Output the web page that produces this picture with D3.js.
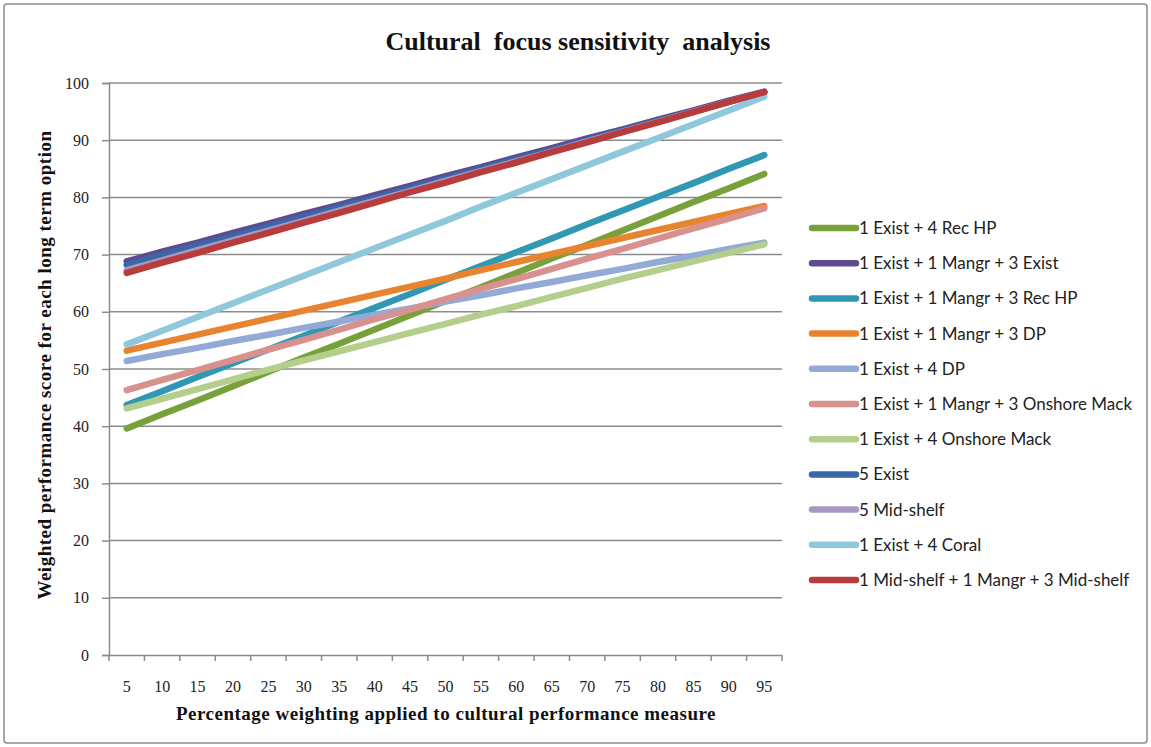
<!DOCTYPE html>
<html>
<head>
<meta charset="utf-8">
<script src="https://cdn.jsdelivr.net/npm/d3@7"></script>
<style>
  body { margin: 0; background: #fff; }
  svg { display: block; }
</style>
</head>
<body>
<div id="chart"></div>
<script>
// weighting applied to the cultural measure (x categories)
const categories = [5, 10, 15, 20, 25, 30, 35, 40, 45, 50, 55, 60, 65, 70, 75, 80, 85, 90, 95];

const seriesNames = [
  "1 Exist + 4 Rec HP",
  "1 Exist + 1 Mangr + 3 Exist",
  "1 Exist + 1 Mangr + 3 Rec HP",
  "1 Exist + 1 Mangr + 3 DP",
  "1 Exist + 4 DP",
  "1 Exist + 1 Mangr + 3 Onshore Mack",
  "1 Exist + 4 Onshore Mack",
  "5 Exist",
  "5 Mid-shelf",
  "1 Exist + 4 Coral",
  "1 Mid-shelf + 1 Mangr + 3 Mid-shelf"
];

// values, one array per option
const existRecHP      = [39.6, 42.1, 44.5, 47.0, 49.5, 52.0, 54.4, 56.9, 59.4, 61.9, 64.3, 66.8, 69.3, 71.7, 74.2, 76.7, 79.2, 81.6, 84.1];
const mangrExist      = [68.8, 70.5, 72.1, 73.8, 75.4, 77.1, 78.7, 80.4, 82.0, 83.7, 85.3, 87.0, 88.6, 90.3, 91.9, 93.6, 95.2, 96.9, 98.5];
const mangrRecHP      = [43.7, 46.1, 48.6, 51.0, 53.4, 55.8, 58.3, 60.7, 63.1, 65.6, 68.0, 70.4, 72.8, 75.3, 77.7, 80.1, 82.5, 85.0, 87.4];
const mangrDP         = [53.2, 54.6, 56.0, 57.4, 58.8, 60.2, 61.6, 63.0, 64.4, 65.8, 67.3, 68.7, 70.1, 71.5, 72.9, 74.3, 75.7, 77.1, 78.5];
const existDP         = [51.4, 52.6, 53.7, 54.9, 56.0, 57.2, 58.3, 59.5, 60.6, 61.8, 62.9, 64.1, 65.2, 66.4, 67.5, 68.7, 69.8, 71.0, 72.1];
const mangrOnshore    = [46.3, 48.1, 49.8, 51.6, 53.4, 55.1, 56.9, 58.7, 60.4, 62.2, 64.0, 65.7, 67.5, 69.3, 71.0, 72.8, 74.6, 76.3, 78.1];
const existOnshore    = [43.1, 44.8, 46.5, 48.2, 49.9, 51.5, 53.1, 54.7, 56.3, 57.9, 59.5, 61.0, 62.6, 64.2, 65.8, 67.3, 68.8, 70.3, 71.8];
const fiveExist       = [68.2, 69.9, 71.6, 73.2, 74.9, 76.6, 78.3, 79.9, 81.6, 83.3, 85.0, 86.7, 88.3, 90.0, 91.7, 93.4, 95.0, 96.7, 98.4];
const fiveMidShelf    = [67.3, 69.0, 70.8, 72.5, 74.2, 75.9, 77.7, 79.4, 81.1, 82.9, 84.6, 86.3, 88.0, 89.8, 91.5, 93.2, 95.0, 96.7, 98.4];
const existCoral      = [54.3, 56.7, 59.1, 61.5, 63.9, 66.3, 68.7, 71.1, 73.5, 75.9, 78.4, 80.8, 83.2, 85.6, 88.0, 90.4, 92.8, 95.2, 97.6];
const midShelfMangr   = [66.8, 68.6, 70.3, 72.1, 73.8, 75.6, 77.3, 79.1, 80.9, 82.6, 84.4, 86.1, 87.9, 89.6, 91.4, 93.1, 94.9, 96.7, 98.4];

const seriesValues = [existRecHP, mangrExist, mangrRecHP, mangrDP, existDP, mangrOnshore,
  existOnshore, fiveExist, fiveMidShelf, existCoral, midShelfMangr];

const yTicks = [0, 10, 20, 30, 40, 50, 60, 70, 80, 90, 100];

const colors = ["#78a13c", "#5d4a8f", "#3198b3", "#e8842f", "#93aad7", "#d9918f",
  "#b3cf8b", "#3b67a8", "#a797c5", "#8fc7dc", "#b83c3b"];

const width = 1151, height = 747;
const margin = { left: 109, right: 782, top: 83, bottom: 655 };
const serif = "'Liberation Serif', 'Times New Roman', serif";
const sans = "Lato, 'Open Sans', sans-serif";

const svg = d3.select("#chart").append("svg")
  .attr("width", width)
  .attr("height", height);

// outer frame
svg.append("rect")
  .attr("x", 4).attr("y", 4)
  .attr("width", width - 8).attr("height", height - 8)
  .attr("rx", 3)
  .attr("fill", "#fff")
  .attr("stroke", "#8c8c8c")
  .attr("stroke-width", 1.5);

const x = d3.scaleBand().domain(categories).range([margin.left, margin.right]).padding(0);
const y = d3.scaleLinear().domain([0, 100]).range([margin.bottom, margin.top]);

// gridlines
svg.append("g").selectAll("line")
  .data(yTicks.slice(1))
  .join("line")
  .attr("x1", margin.left).attr("x2", margin.right)
  .attr("y1", d => y(d)).attr("y2", d => y(d))
  .attr("stroke", "#8c8c8c")
  .attr("stroke-width", 1.5);

// y axis
const yAxis = svg.append("g")
  .attr("transform", `translate(${margin.left},0)`)
  .call(d3.axisLeft(y).tickValues(yTicks).tickSize(7).tickPadding(13));
yAxis.select(".domain").attr("stroke", "#8c8c8c").attr("stroke-width", 1.5);
yAxis.selectAll(".tick line").attr("stroke", "#8c8c8c").attr("stroke-width", 1.5);
yAxis.selectAll(".tick text")
  .style("font-family", serif).style("font-size", "16px").attr("fill", "#222");

// x axis: labels in the middle of each band, marks between bands
const xAxis = svg.append("g")
  .attr("transform", `translate(0,${margin.bottom})`)
  .call(d3.axisBottom(x).tickSize(0).tickPadding(26));
xAxis.select(".domain").attr("stroke", "#8c8c8c").attr("stroke-width", 1.5);
xAxis.selectAll(".tick text")
  .style("font-family", serif).style("font-size", "16px").attr("fill", "#222");

const bounds = categories.map(c => x(c)).concat([x.range()[1]]);
svg.append("g").selectAll("line")
  .data(bounds)
  .join("line")
  .attr("x1", d => d).attr("x2", d => d)
  .attr("y1", margin.bottom).attr("y2", margin.bottom + 6)
  .attr("stroke", "#8c8c8c")
  .attr("stroke-width", 1.5);

// series lines
const line = d3.line()
  .x((d, i) => x(categories[i]) + x.bandwidth() / 2)
  .y(d => y(d));

svg.append("g").selectAll("path")
  .data(seriesValues)
  .join("path")
  .attr("d", line)
  .attr("fill", "none")
  .attr("stroke", (d, i) => colors[i])
  .attr("stroke-width", 6.5)
  .attr("stroke-linecap", "round")
  .attr("stroke-linejoin", "round");

// title
svg.append("text")
  .attr("x", 578).attr("y", 50)
  .attr("text-anchor", "middle")
  .style("font-family", serif).style("font-size", "26px").style("font-weight", "bold")
  .style("white-space", "pre")
  .attr("fill", "#111")
  .text("Cultural  focus sensitivity  analysis");

// axis titles
svg.append("text")
  .attr("x", 446).attr("y", 720)
  .attr("text-anchor", "middle")
  .style("font-family", serif).style("font-size", "19px").style("font-weight", "bold")
  .style("letter-spacing", "0.5px")
  .attr("fill", "#111")
  .text("Percentage weighting applied to cultural performance measure");

svg.append("text")
  .attr("transform", "translate(51,365) rotate(-90)")
  .attr("text-anchor", "middle")
  .style("font-family", serif).style("font-size", "19px").style("font-weight", "bold")
  .style("letter-spacing", "0.5px")
  .attr("fill", "#111")
  .text("Weighted performance score for each long term option");

// legend
const legend = svg.append("g").selectAll("g")
  .data(seriesNames)
  .join("g")
  .attr("transform", (d, i) => `translate(812,${228 + i * 35.2})`);

legend.append("line")
  .attr("x1", 0).attr("x2", 44)
  .attr("stroke", (d, i) => colors[i])
  .attr("stroke-width", 6.5)
  .attr("stroke-linecap", "round");

legend.append("text")
  .attr("x", 47)
  .attr("dy", "0.35em")
  .style("font-family", sans).style("font-size", "17px")
  .attr("fill", "#222")
  .text(d => d);
</script>
</body>
</html>
